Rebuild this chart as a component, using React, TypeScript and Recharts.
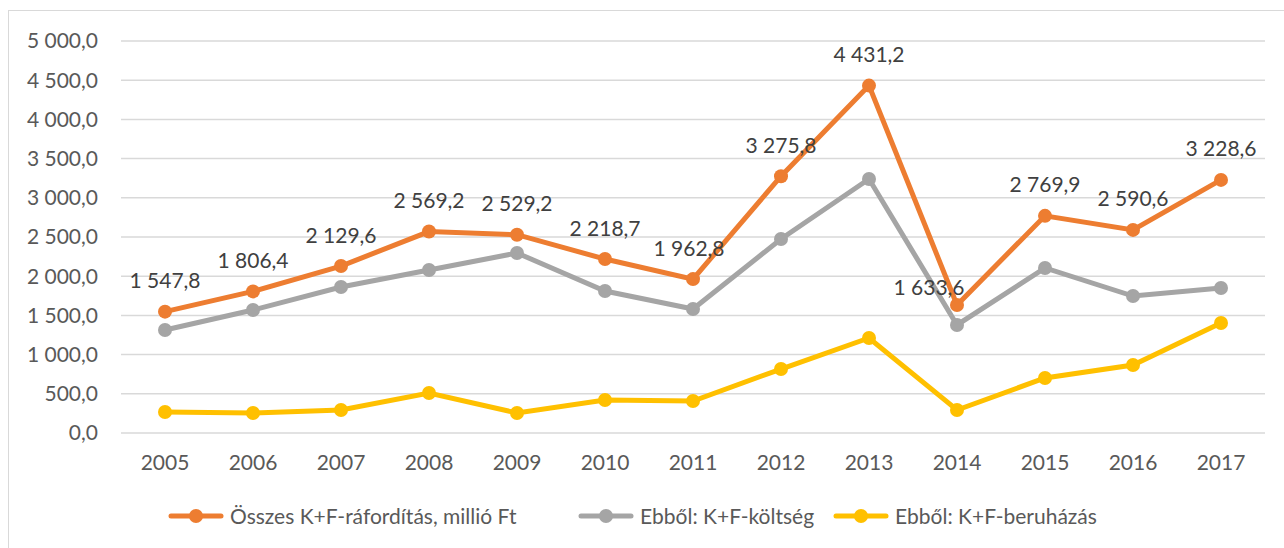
import React from 'react';
import { LineChart, Line, XAxis, YAxis, CartesianGrid, LabelList } from 'recharts';

const years = ['2005', '2006', '2007', '2008', '2009', '2010', '2011', '2012', '2013', '2014', '2015', '2016', '2017'];
const osszes = [1547.8, 1806.4, 2129.6, 2569.2, 2529.2, 2218.7, 1962.8, 3275.8, 4431.2, 1633.6, 2769.9, 2590.6, 3228.6];
const koltseg = [1314, 1569, 1862, 2079, 2296, 1811, 1582, 2474, 3240, 1378, 2105, 1747, 1849];
const beruhazas = [268, 255, 293, 510, 255, 421, 408, 816, 1212, 293, 702, 867, 1403];
const yTicks = [0, 500, 1000, 1500, 2000, 2500, 3000, 3500, 4000, 4500, 5000];

const seriesNames = ['Összes K+F-ráfordítás, millió Ft', 'Ebből: K+F-költség', 'Ebből: K+F-beruházás'];
const COLORS = ['#ED7D31', '#A5A5A5', '#FFC000'];
const legendLeft = [168, 578, 833];

const data = years.map((year, i) => ({
  year,
  osszes: osszes[i],
  koltseg: koltseg[i],
  beruhazas: beruhazas[i],
}));

const FONT = 'Lato, "Liberation Sans", sans-serif';
const FS = 21;

function fmt(v: number) {
  const [int, dec] = v.toFixed(1).split('.');
  return int.replace(/\B(?=(\d{3})+(?!\d))/g, ' ') + ',' + dec;
}

// label nudges (Excel moved a couple of them by hand)
const labelShift: Record<number, [number, number]> = {
  9: [-28, 14],
  6: [-4, 0],
};

const renderLabel = (props: any) => {
  const { x, y, value, index } = props;
  const [dx, dy] = labelShift[index] || [0, 0];
  return (
    <text
      x={x + dx}
      y={y - 32 + dy}
      textAnchor="middle"
      dominantBaseline="central"
      fill="#404040"
      fontSize={FS}
      fontFamily={FONT}
    >
      {fmt(value)}
    </text>
  );
};

function LegendIcon({ color }: { color: string }) {
  return (
    <svg width={56} height={16}>
      <line x1={3} y1={8} x2={53} y2={8} stroke={color} strokeWidth={5} strokeLinecap="round" />
      <circle cx={28} cy={8} r={7} fill={color} />
    </svg>
  );
}

export default function App() {
  return (
    <div style={{ position: 'absolute', left: 0, top: 0, width: 1284, height: 548, background: '#fff', overflow: 'hidden' }}>
      <div
        style={{
          position: 'absolute',
          left: 8,
          top: 10,
          width: 1300,
          height: 600,
          borderTop: '1.5px solid #D9D9D9',
          borderLeft: '1.5px solid #D9D9D9',
        }}
      />
      <div style={{ position: 'absolute', left: 0, top: 0 }}>
        <LineChart width={1284} height={548} data={data} margin={{ top: 41, right: 19, left: 0, bottom: 60 }}>
          <CartesianGrid vertical={false} stroke="#D9D9D9" strokeWidth={1.5} />
          <XAxis
            dataKey="year"
            axisLine={false}
            tickLine={false}
            tickSize={0}
            tickMargin={22}
            height={55}
            interval={0}
            padding={{ left: 44, right: 44 }}
            tick={{ fill: '#595959', fontSize: FS, fontFamily: FONT }}
          />
          <YAxis
            domain={[0, 5000]}
            ticks={yTicks}
            axisLine={false}
            tickLine={false}
            tickSize={0}
            tickMargin={23}
            width={121}
            tickFormatter={fmt}
            tick={{ fill: '#595959', fontSize: FS, fontFamily: FONT }}
          />
          <Line
            dataKey="beruhazas"
            stroke={COLORS[2]}
            strokeWidth={5}
            dot={{ r: 7, fill: COLORS[2], stroke: COLORS[2], strokeWidth: 0 }}
            isAnimationActive={false}
          />
          <Line
            dataKey="koltseg"
            stroke={COLORS[1]}
            strokeWidth={5}
            dot={{ r: 7, fill: COLORS[1], stroke: COLORS[1], strokeWidth: 0 }}
            isAnimationActive={false}
          />
          <Line
            dataKey="osszes"
            stroke={COLORS[0]}
            strokeWidth={5}
            dot={{ r: 7, fill: COLORS[0], stroke: COLORS[0], strokeWidth: 0 }}
            isAnimationActive={false}
          >
            <LabelList dataKey="osszes" content={renderLabel} />
          </Line>
        </LineChart>
      </div>
      {seriesNames.map((name, i) => (
        <div
          key={name}
          style={{
            position: 'absolute',
            left: legendLeft[i],
            top: 503,
            display: 'flex',
            alignItems: 'center',
            gap: 6,
            fontFamily: FONT,
            fontSize: FS,
            color: '#595959',
            whiteSpace: 'nowrap',
          }}
        >
          <LegendIcon color={COLORS[i]} />
          <span>{name}</span>
        </div>
      ))}
    </div>
  );
}
